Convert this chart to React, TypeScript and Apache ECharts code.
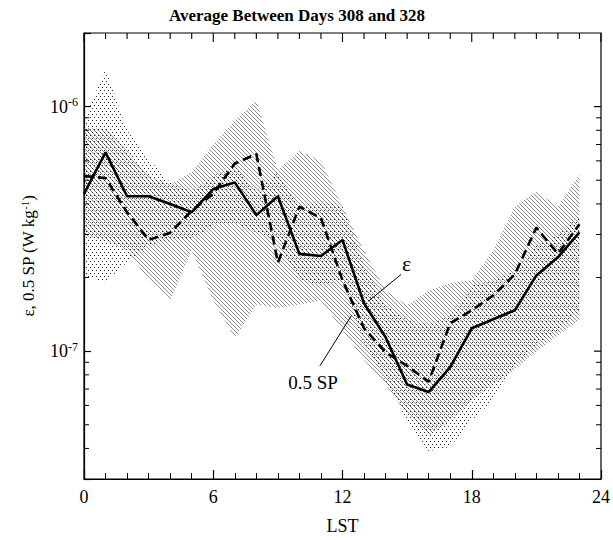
import React, { useEffect, useRef } from "react";
import * as echarts from "echarts";

// Local solar time (hours) of each hourly bin
const HOURS = [0, 1, 2, 3, 4, 5, 6, 7, 8, 9, 10, 11, 12, 13, 14, 15, 16, 17, 18, 19, 20, 21, 22, 23];

// Dissipation rate epsilon (W/kg)
const EPSILON = [
  4.4e-7, 6.5e-7, 4.3e-7, 4.3e-7, 4.0e-7, 3.7e-7, 4.6e-7, 4.9e-7, 3.6e-7, 4.3e-7, 2.5e-7, 2.45e-7,
  2.85e-7, 1.57e-7, 1.14e-7, 7.3e-8, 6.8e-8, 8.6e-8, 1.24e-7, 1.35e-7, 1.47e-7, 2.04e-7, 2.42e-7, 3.06e-7,
];
// Half the shear production, 0.5 SP (W/kg)
const HALF_SP = [
  5.2e-7, 5.1e-7, 3.7e-7, 2.85e-7, 3.05e-7, 3.75e-7, 4.4e-7, 5.85e-7, 6.4e-7, 2.3e-7, 3.9e-7, 3.5e-7,
  1.95e-7, 1.24e-7, 9.9e-8, 8.7e-8, 7.5e-8, 1.3e-7, 1.47e-7, 1.69e-7, 2.06e-7, 3.2e-7, 2.5e-7, 3.3e-7,
];

// Spread of epsilon (stippled band)
const EPS_HI = [
  8.8e-7, 1.43e-6, 8.0e-7, 6.1e-7, 4.9e-7, 4.5e-7, 5.2e-7, 5.7e-7, 4.5e-7, 5.4e-7, 3.9e-7, 4.1e-7,
  3.9e-7, 2.24e-7, 1.54e-7, 1.34e-7, 1.28e-7, 1.4e-7, 1.86e-7, 1.95e-7, 2.14e-7, 2.7e-7, 2.97e-7, 3.6e-7,
];
const EPS_LO = [
  2.04e-7, 1.91e-7, 2.31e-7, 2.71e-7, 2.84e-7, 2.89e-7, 3.27e-7, 3.36e-7, 3.06e-7, 2.84e-7, 1.95e-7, 1.86e-7,
  1.95e-7, 1.06e-7, 7.6e-8, 5.2e-8, 3.9e-8, 4.06e-8, 5.2e-8, 6.3e-8, 8.8e-8, 1.06e-7, 1.22e-7, 1.47e-7,
];

// Spread of 0.5 SP (hatched band)
const SP_HI = [
  8.2e-7, 8.1e-7, 6.6e-7, 5.2e-7, 4.8e-7, 5.4e-7, 7.0e-7, 8.8e-7, 1.06e-6, 5.5e-7, 6.6e-7, 6.0e-7,
  3.9e-7, 2.58e-7, 1.77e-7, 1.54e-7, 1.77e-7, 1.9e-7, 1.95e-7, 2.58e-7, 3.9e-7, 4.5e-7, 3.9e-7, 5.3e-7,
];
const SP_LO = [
  2.97e-7, 2.84e-7, 2.58e-7, 1.95e-7, 1.61e-7, 2.58e-7, 1.61e-7, 1.13e-7, 1.55e-7, 1.5e-7, 1.55e-7, 1.61e-7,
  1.22e-7, 9.2e-8, 7.3e-8, 5.5e-8, 4.5e-8, 5.2e-8, 6.3e-8, 7.3e-8, 8.4e-8, 1.0e-7, 1.16e-7, 1.34e-7,
];

// Axis ranges
const X_MIN = 0;
const X_MAX = 24;
const Y_MIN = 3e-8;
const Y_MAX = 2e-6;

// Tick positions mirrored on the top and right edges of the frame
const X_FRAME_TICKS = [0, 1, 2, 3, 4, 5, 6, 7, 8, 9, 10, 11, 12, 13, 14, 15, 16, 17, 18, 19, 20, 21, 22, 23, 24];
const Y_MAJOR_TICKS = [1e-7, 1e-6];
// Minor (unlabelled) ticks on the logarithmic axis
const Y_MINOR_TICKS = [
  4e-8, 5e-8, 6e-8, 7e-8, 8e-8, 9e-8, 2e-7, 3e-7, 4e-7, 5e-7, 6e-7, 7e-7, 8e-7, 9e-7,
];

// Curve annotations: [hour, value] of text and leader-line ends
const EPS_TEXT_AT = [14.98, 2.29e-7];
const EPS_LEADER = [
  [14.72, 2.06e-7],
  [13.2, 1.6e-7],
];
const SP_TEXT_AT = [10.63, 7.45e-8];
const SP_LEADER = [
  [10.95, 8.7e-8],
  [12.42, 1.4e-7],
];

const FONT = "'Liberation Serif', 'Times New Roman', serif";

function makePattern(kind: "dots" | "hatch") {
  const c = document.createElement("canvas");
  if (kind === "hatch") {
    c.width = 4;
    c.height = 4;
    const ctx = c.getContext("2d")!;
    ctx.fillStyle = "#8c8c8c";
    for (let i = 0; i < 4; i++) ctx.fillRect(i, i, 1, 1);
  } else {
    c.width = 4;
    c.height = 6;
    const ctx = c.getContext("2d")!;
    ctx.fillStyle = "#2a2a2a";
    ctx.fillRect(0, 0, 1, 1);
    ctx.fillRect(2, 3, 1, 1);
  }
  return { image: c, repeat: "repeat", imageWidth: c.width, imageHeight: c.height };
}

function bandSeries(name: string, hi: number[], lo: number[], fill: any, z: number) {
  return {
    name,
    type: "custom",
    z,
    silent: true,
    data: [[HOURS[0], hi[0]]],
    renderItem: (params: any, api: any) => {
      if (params.dataIndex !== 0) return null;
      const pts: number[][] = [];
      for (let i = 0; i < HOURS.length; i++) pts.push(api.coord([HOURS[i], hi[i]]));
      for (let i = HOURS.length - 1; i >= 0; i--) pts.push(api.coord([HOURS[i], lo[i]]));
      return {
        type: "polygon",
        shape: { points: pts },
        style: { fill, stroke: null },
      };
    },
  };
}

const TITLE = {
  type: "text",
  id: "title",
  x: 297,
  y: 15,
  style: {
    text: "Average Between Days 308 and 328",
    textAlign: "center",
    textVerticalAlign: "middle",
    font: `bold 17px ${FONT}`,
    fill: "#000",
  },
};

export default function App() {
  const ref = useRef<HTMLDivElement>(null);

  useEffect(() => {
    const chart = echarts.init(ref.current!, null, { renderer: "svg" });

    const supRich = {
      b: { fontSize: 18, fontFamily: FONT, color: "#000" },
      s: { fontSize: 12, fontFamily: FONT, color: "#000", padding: [0, 0, 9, 0] },
    };
    const nameRich = {
      s: { fontSize: 11, fontFamily: FONT, color: "#000", padding: [0, 0, 8, 0] },
    };

    chart.setOption({
      animation: false,
      backgroundColor: "#fff",
      textStyle: { fontFamily: FONT, color: "#000" },
      grid: { left: 84, right: 12, top: 33, bottom: 60 },
      graphic: [TITLE],
      xAxis: {
        type: "value",
        min: X_MIN,
        max: X_MAX,
        interval: 6,
        position: "bottom",
        axisLine: { show: true, onZero: false, lineStyle: { color: "#000", width: 1.2 } },
        axisTick: { show: true, inside: true, length: 9, lineStyle: { color: "#000", width: 1.2 } },
        minorTick: { show: true, splitNumber: 6, length: 6, lineStyle: { color: "#000", width: 1 } },
        splitLine: { show: false },
        minorSplitLine: { show: false },
        axisLabel: { color: "#000", fontSize: 18, fontFamily: FONT, margin: 9 },
        name: "LST",
        nameLocation: "middle",
        nameGap: 38,
        nameTextStyle: { color: "#000", fontSize: 18, fontFamily: FONT },
      },
      yAxis: {
        type: "log",
        logBase: 10,
        min: Y_MIN,
        max: Y_MAX,
        position: "left",
        axisLine: { show: true, onZero: false, lineStyle: { color: "#000", width: 1.2 } },
        axisTick: { show: true, inside: true, length: 7, lineStyle: { color: "#000", width: 1.2 } },
        minorTick: { show: false },
        splitLine: { show: false },
        minorSplitLine: { show: false },
        axisLabel: {
          margin: 6,
          formatter: (v: number) => {
            const e = Math.log10(v);
            const r = Math.round(e);
            if (Math.abs(e - r) > 1e-6) return "";
            return `{b|10}{s|${r}}`;
          },
          rich: supRich,
        },
        name: "ε, 0.5 SP (W kg{s|-1})",
        nameLocation: "middle",
        nameRotate: 90,
        nameGap: 46,
        nameTextStyle: { color: "#000", fontSize: 17, fontFamily: FONT, rich: nameRich },
      },
      series: [
        bandSeries("0.5 SP range", SP_HI, SP_LO, makePattern("hatch"), 1),
        bandSeries("ε range", EPS_HI, EPS_LO, makePattern("dots"), 2),
        {
          name: "0.5 SP",
          type: "line",
          z: 4,
          symbol: "none",
          data: HOURS.map((h, i) => [h, HALF_SP[i]]),
          lineStyle: { color: "#000", width: 2.6, type: [9, 5] },
          markLine: {
            silent: true,
            symbol: ["none", "none"],
            label: { show: false },
            lineStyle: { color: "#000", width: 1, type: "solid" },
            data: [[{ coord: SP_LEADER[0] }, { coord: SP_LEADER[1] }]],
          },
          markPoint: {
            silent: true,
            symbol: "circle",
            symbolSize: 0,
            label: { show: true, position: "inside", formatter: "0.5 SP", color: "#000", fontSize: 19, fontFamily: FONT },
            data: [{ coord: SP_TEXT_AT }],
          },
        },
        {
          name: "ε",
          type: "line",
          z: 4,
          symbol: "none",
          data: HOURS.map((h, i) => [h, EPSILON[i]]),
          lineStyle: { color: "#000", width: 2.6 },
          markLine: {
            silent: true,
            symbol: ["none", "none"],
            label: { show: false },
            lineStyle: { color: "#000", width: 1, type: "solid" },
            data: [[{ coord: EPS_LEADER[0] }, { coord: EPS_LEADER[1] }]],
          },
          markPoint: {
            silent: true,
            symbol: "circle",
            symbolSize: 0,
            label: { show: true, position: "inside", formatter: "ε", color: "#000", fontSize: 22, fontFamily: FONT },
            data: [{ coord: EPS_TEXT_AT }],
          },
        },
      ],
    });

    // Frame and mirrored ticks, placed through the grid's own value-to-pixel conversion
    const px = (x: number, y: number) => chart.convertToPixel({ gridIndex: 0 }, [x, y]) as number[];
    const [left, bottom] = px(X_MIN, Y_MIN);
    const [right, top] = px(X_MAX, Y_MAX);
    const stroke = (w: number) => ({ stroke: "#000", lineWidth: w });
    const frame: any[] = [
      {
        type: "rect",
        id: "frame",
        z: 50,
        silent: true,
        shape: { x: left, y: top, width: right - left, height: bottom - top },
        style: { fill: "transparent", stroke: "#000", lineWidth: 1.2 },
      },
    ];
    X_FRAME_TICKS.forEach((h, i) => {
      const x = px(h, Y_MAX)[0];
      const len = h % 6 === 0 ? 9 : 6;
      frame.push({ type: "line", id: `tt${i}`, z: 50, silent: true, shape: { x1: x, y1: top, x2: x, y2: top + len }, style: stroke(1.1) });
    });
    Y_MAJOR_TICKS.forEach((v, i) => {
      const y = px(X_MAX, v)[1];
      frame.push({ type: "line", id: `rt${i}`, z: 50, silent: true, shape: { x1: right - 7, y1: y, x2: right, y2: y }, style: stroke(1.2) });
    });
    Y_MINOR_TICKS.forEach((v, i) => {
      const y = px(X_MIN, v)[1];
      frame.push({ type: "line", id: `lm${i}`, z: 50, silent: true, shape: { x1: left, y1: y, x2: left + 5, y2: y }, style: stroke(1) });
      frame.push({ type: "line", id: `rm${i}`, z: 50, silent: true, shape: { x1: right - 5, y1: y, x2: right, y2: y }, style: stroke(1) });
    });
    chart.setOption({ graphic: [TITLE, ...frame] });

    return () => chart.dispose();
  }, []);

  return <div ref={ref} style={{ position: "fixed", left: 0, top: 0, width: 613, height: 540 }} />;
}
